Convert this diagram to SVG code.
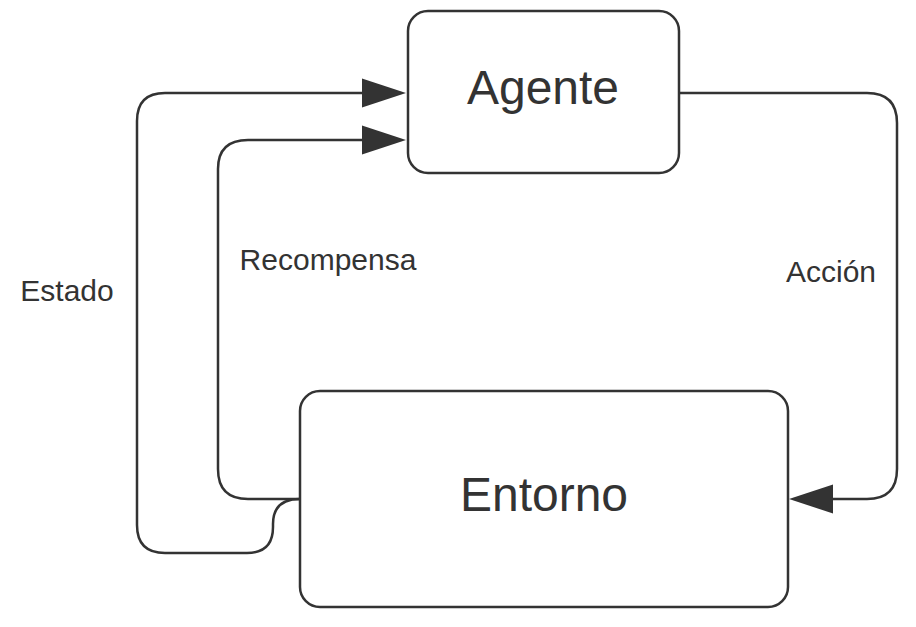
<svg xmlns="http://www.w3.org/2000/svg" width="916" height="627" viewBox="0 0 916 627">
<style>
.box{fill:#fff;stroke:#333;stroke-width:2.5}
.edge{fill:none;stroke:#333;stroke-width:2.5}
.head{fill:#333;stroke:none}
.t{font-family:"Liberation Sans",Arial,sans-serif;fill:#333;text-anchor:middle}
.big{font-size:48px}
.lbl{font-size:30px}
</style>
<rect width="916" height="627" fill="#fff"/>
<g id="connectors">
<g id="estado">
<path class="edge" d="M300,499 Q273,499 273,524 L273,527 Q273,553 247,553 L165,553 Q137,553 137,525 L137,121 Q137,93 165,93 L364,93"/>
<polygon class="head" points="362,78.5 406,93 362,107.5"/>
<text class="t lbl" x="67" y="301">Estado</text>
</g>
<g id="recompensa">
<path class="edge" d="M300,499 L248,499 Q218,499 218,469 L218,169 Q218,140 248,140 L364,140"/>
<polygon class="head" points="362,125.5 406,140 362,154.5"/>
<text class="t lbl" x="328" y="270">Recompensa</text>
</g>
<g id="accion">
<path class="edge" d="M680,93 L867,93 Q897,93 897,123 L897,469 Q897,499 867,499 L831,499"/>
<polygon class="head" points="833,484.5 789,499 833,513.5"/>
<text class="t lbl" x="831" y="282">Acción</text>
</g>
</g>
<g id="agente">
<rect class="box" x="408" y="11" width="271" height="162" rx="20"/>
<text class="t big" x="543" y="104">Agente</text>
</g>
<g id="entorno">
<rect class="box" x="300" y="391" width="488" height="216" rx="20"/>
<text class="t big" x="544" y="511">Entorno</text>
</g>
</svg>
